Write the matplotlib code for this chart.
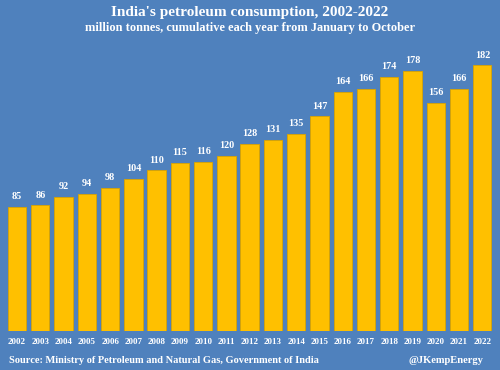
import matplotlib.pyplot as plt

years = [str(y) for y in range(2002, 2023)]
consumption = [85, 86, 92, 94, 98, 104, 110, 115, 116, 120, 128,
               131, 135, 147, 164, 166, 174, 178, 156, 166, 182]

bg = '#4F81BD'
bar_col = '#FFC000'

plt.rcParams['font.family'] = ['Liberation Serif', 'DejaVu Serif']

fig = plt.figure(figsize=(5, 3.7), dpi=100, facecolor=bg)
ax = fig.add_axes([0.0108, 0.1054, 0.977, 0.789])
ax.set_facecolor(bg)

x = range(len(years))
bars = ax.bar(x, consumption, width=0.79, color=bar_col,
              edgecolor='#D9A300', linewidth=0.6)
for xi, v in zip(x, consumption):
    ax.text(xi, v + 4, str(v), ha='center', va='bottom', color='white',
            fontsize=7.3, fontweight='bold')

ax.set_xlim(-0.5, len(years) - 0.5)
ax.set_ylim(0, 200)
ax.set_xticks(list(x))
ax.set_xticklabels(years, color='white', fontsize=6.5, fontweight='bold')
ax.tick_params(axis='x', length=0, pad=5)
ax.set_yticks([])
for s in ax.spines.values():
    s.set_visible(False)

fig.text(0.5, 0.965, "India's petroleum consumption, 2002-2022", ha='center',
         va='center', color='white', fontsize=11, fontweight='bold')
fig.text(0.5, 0.925, "million tonnes, cumulative each year from January to October",
         ha='center', va='center', color='white', fontsize=8.9, fontweight='bold')
fig.text(0.018, 0.025, "Source: Ministry of Petroleum and Natural Gas, Government of India",
         ha='left', va='center', color='white', fontsize=7.5, fontweight='bold')
fig.text(0.966, 0.025, "@JKempEnergy", ha='right', va='center', color='white',
         fontsize=7.6, fontweight='bold')

fig.savefig('out.png', facecolor=bg)
